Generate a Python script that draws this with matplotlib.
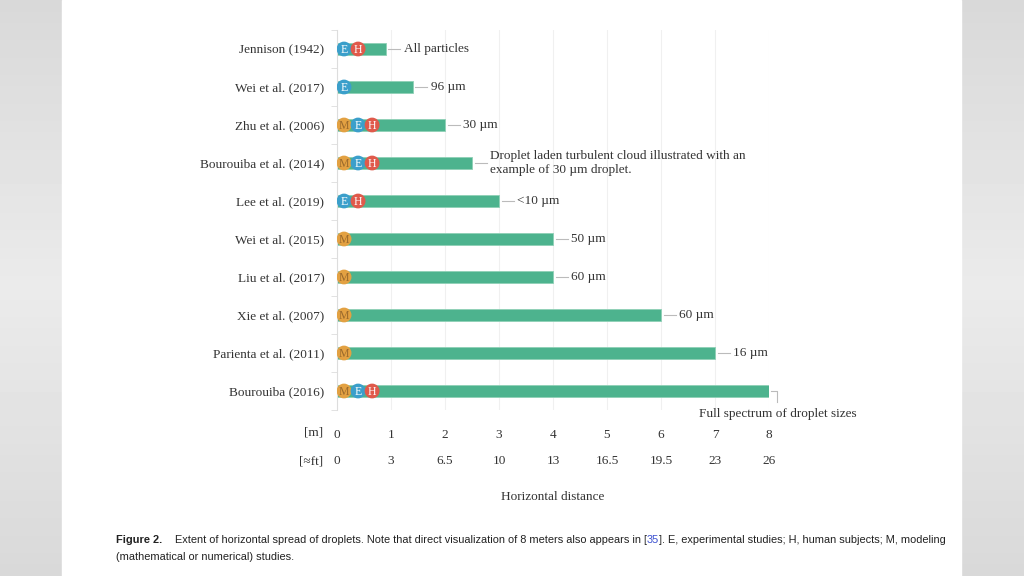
import numpy as np
import matplotlib
matplotlib.use("Agg")
import matplotlib.pyplot as plt
from matplotlib.patches import Rectangle, Ellipse

# data
studies = ["Jennison (1942)", "Wei et al. (2017)", "Zhu et al. (2006)",
           "Bourouiba et al. (2014)", "Lee et al. (2019)", "Wei et al. (2015)",
           "Liu et al. (2017)", "Xie et al. (2007)", "Parienta et al. (2011)",
           "Bourouiba (2016)"]
distance_m = [0.9, 1.4, 2.0, 2.5, 3.0, 4.0, 4.0, 6.0, 7.0, 8.0]
study_types = [["E", "H"], ["E"], ["M", "E", "H"], ["M", "E", "H"], ["E", "H"],
               ["M"], ["M"], ["M"], ["M"], ["M", "E", "H"]]
notes = ["All particles", "96 \u00b5m", "30 \u00b5m",
         "Droplet laden turbulent cloud illustrated with an\nexample of 30 \u00b5m droplet.",
         "<10 \u00b5m", "50 \u00b5m", "60 \u00b5m", "60 \u00b5m", "16 \u00b5m",
         "Full spectrum of droplet sizes"]
m_ticks = [0, 1, 2, 3, 4, 5, 6, 7, 8]
ft_labels = ["0", "3", "6.5", "10", "13", "16.5", "19.5", "23", "26"]

bar_color = "#4db38e"
badge_colors = {"M": "#e3a142", "E": "#3b9fcb", "H": "#e05a4b"}
badge_text = {"M": "#9b6a2c", "E": "white", "H": "white"}
serif = ["Liberation Serif", "DejaVu Serif"]
txt = "#333333"

fig = plt.figure(figsize=(10.24, 5.76), dpi=100)

# page background: grey sides with a soft vertical gradient, white sheet
bg = fig.add_axes([0, 0, 1, 1], zorder=-10)
grad = np.concatenate([np.linspace(0.85, 0.92, 50), np.linspace(0.92, 0.85, 50)])
bg.imshow(np.tile(grad[:, None], (1, 2)), cmap="gray", vmin=0, vmax=1,
          aspect="auto", extent=[0, 1, 0, 1])
bg.add_patch(Rectangle((62 / 1024, 0), 899 / 1024, 1, color="white"))
bg.set_xlim(0, 1)
bg.set_ylim(0, 1)
bg.axis("off")

ax = fig.add_axes([337 / 1024, 1 - 410 / 576, 432 / 1024, 380 / 576])
ax.set_facecolor("none")
ypos = np.arange(len(studies))
ax.barh(ypos, distance_m, height=0.34, color=bar_color, edgecolor="#8fd0b6",
        linewidth=0.6, zorder=2)
ax.set_xlim(0, 8)
ylo, yhi = len(studies) - 0.56, -0.47
ax.set_ylim(ylo, yhi)

ax.set_yticks(ypos)
ax.set_yticklabels(studies, fontfamily=serif, fontsize=9.5, color=txt)
ax.set_yticks(np.arange(-0.5, len(studies)), minor=True)
ax.tick_params(axis="y", which="major", length=0, pad=9)
ax.tick_params(axis="y", which="minor", length=4, color="#dddddd")

ax.set_xticks(m_ticks)
ax.set_xticklabels([str(t) for t in m_ticks], fontfamily=serif, fontsize=9.5, color=txt)
ax.tick_params(axis="x", length=0, pad=14)
ax.grid(axis="x", color="#f0f0f0", linewidth=0.8, zorder=0)
for s in ["top", "right", "bottom"]:
    ax.spines[s].set_visible(False)
ax.spines["left"].set_color("#dddddd")

xt = ax.get_xaxis_transform()
for t, lab in zip(m_ticks, ft_labels):
    ax.text(t, -0.135, lab, transform=xt, ha="center", va="center",
            fontfamily=serif, fontsize=9.5, color=txt)
ax.text(-0.25, -0.058, "[m]", transform=xt, ha="right", va="center",
        fontfamily=serif, fontsize=9.5, color=txt)
ax.text(-0.25, -0.135, "[\u2248ft]", transform=xt, ha="right", va="center",
        fontfamily=serif, fontsize=9.5, color=txt)
ax.text(4, -0.23, "Horizontal distance", transform=xt, ha="center",
        va="center", fontfamily=serif, fontsize=9.5, color=txt)

# study-type badges at the start of each bar (ellipses so they look round)
px_x = 432 / 8
px_y = 380 / (ylo - yhi)
for y, types in zip(ypos, study_types):
    for k, t in enumerate(types):
        cx = 0.13 + k * 0.26
        ax.add_patch(Ellipse((cx, y), 13.5 / px_x, 13.5 / px_y,
                             color=badge_colors[t], zorder=3))
        ax.text(cx, y + 0.02, t, ha="center", va="center", fontfamily=serif,
                fontsize=8.5, color=badge_text[t], zorder=4)

# leader lines and notes
for y, d, note in zip(ypos[:-1], distance_m[:-1], notes[:-1]):
    ax.plot([d + 0.05, d + 0.27], [y, y], color="#bbbbbb", linewidth=0.8, clip_on=False)
    ax.text(d + 0.34, y, note, ha="left", va="center", fontfamily=serif,
            fontsize=9.5, color=txt, linespacing=1.15)
d, y = distance_m[-1], ypos[-1]
ax.plot([d + 0.04, d + 0.14, d + 0.14], [y, y, y + 0.3], color="#bbbbbb",
        linewidth=0.8, clip_on=False)
ax.text(9.63, y + 0.6, notes[-1], ha="right", va="center", fontfamily=serif,
        fontsize=9.5, color=txt, clip_on=False)

# caption; font size fitted so the first line ends where it does
cap = dict(fontfamily=["Liberation Sans", "DejaVu Sans"], color="#222222", va="center")
y1, y2 = 1 - 540 / 576, 1 - 557 / 576
parts = [("Extent of horizontal spread of droplets. Note that direct visualization "
          "of 8 meters also appears in [", "#222222"),
         ("35", "#3a4fd0"),
         ("]. E, experimental studies; H, human subjects; M, modeling", "#222222")]
rend = fig.canvas.get_renderer()


def place_line(size):
    out = []
    x = 175
    for s, c in parts:
        t = fig.text(x / 1024, y1, s, fontsize=size, **{**cap, "color": c})
        x = t.get_window_extent(rend).x1
        out.append(t)
    return out, x


size = 8.5
objs, xend = place_line(size)
for t in objs:
    t.remove()
size = size * (942 - 175) / (xend - 175)
place_line(size)
fig.text(116 / 1024, y1, "Figure 2.", fontweight="bold", fontsize=size, **cap)
fig.text(116 / 1024, y2, "(mathematical or numerical) studies.", fontsize=size, **cap)

fig.savefig("out.png", dpi=100)
